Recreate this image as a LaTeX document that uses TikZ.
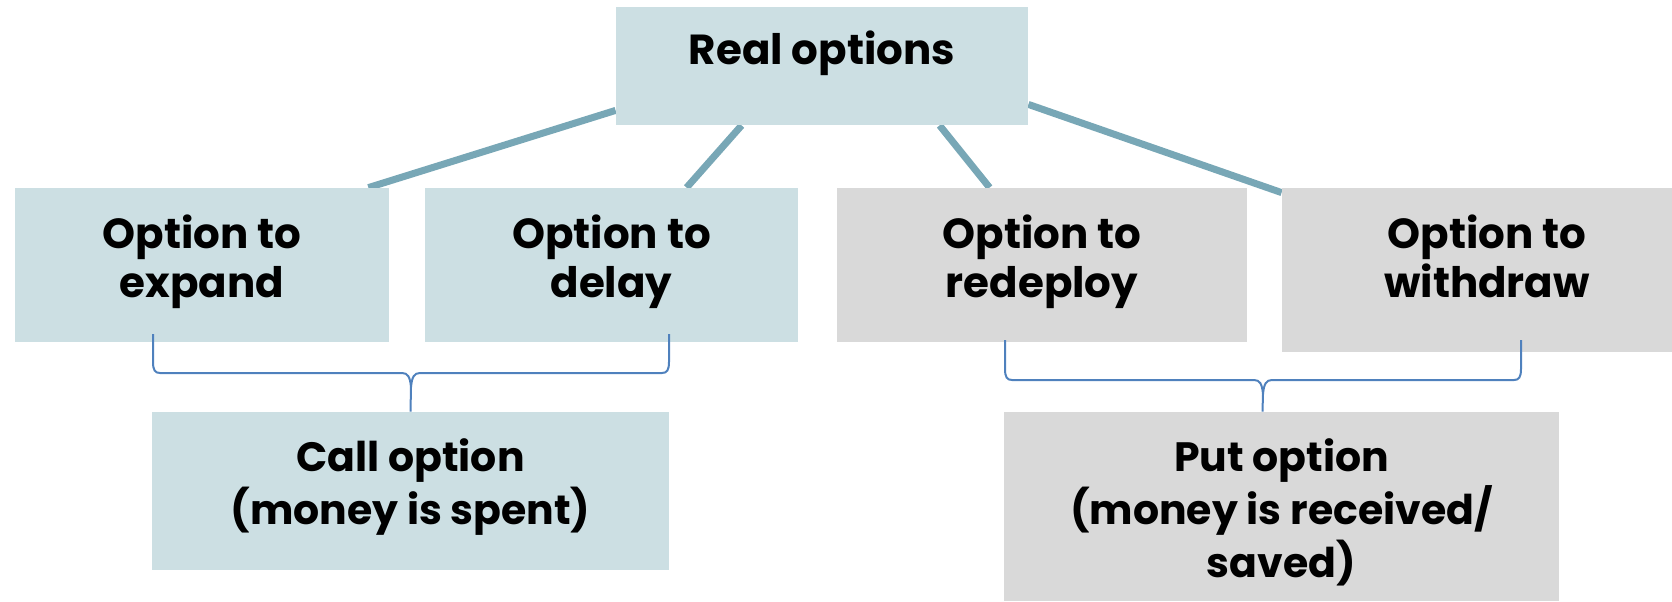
\documentclass[tikz,border=0pt]{standalone}
\usepackage{fontspec}
\setmainfont{Poppins}
\usetikzlibrary{calc, backgrounds}
\definecolor{boxblue}{HTML}{CCDFE3}
\definecolor{boxgray}{HTML}{D9D9D9}
\definecolor{linkcol}{HTML}{78A7B6}
\definecolor{bracecol}{HTML}{4F81BD}

\begin{document}
\begin{tikzpicture}[x=0.5pt, y=-0.5pt,
    bluebox/.style={fill=boxblue, inner sep=0pt},
    graybox/.style={fill=boxgray, inner sep=0pt},
    txt/.style={font=\bfseries\fontsize{21}{24.5}\selectfont, align=center, anchor=north, inner sep=0pt},
    bigtxt/.style={txt, font=\bfseries\fontsize{20.5}{26.5}\selectfont},
    link/.style={draw=linkcol, line width=3.5pt},
    brc/.style={draw=bracecol, line width=1pt}]
    \useasboundingbox (0,0) rectangle (1672,601);
    \node[bluebox, minimum width=206pt, minimum height=59pt] (real) at (822,66) {};
    \node[bluebox, minimum width=187pt, minimum height=77pt] (expand) at (202,265) {};
    \node[bluebox, minimum width=186.5pt, minimum height=77pt] (delay) at (611.5,265) {};
    \node[graybox, minimum width=205pt, minimum height=77pt] (redeploy) at (1042,265) {};
    \node[graybox, minimum width=205pt, minimum height=82pt] (withdraw) at (1487,270) {};
    \node[bluebox, minimum width=258.5pt, minimum height=79pt] (call) at (410.5,491) {};
    \node[graybox, minimum width=277.5pt, minimum height=94.5pt] (put) at (1281.5,506.5) {};

    \node[txt] (realtxt) at ($(real.north)+(0,24)$) {Real options};
    \node[txt] (expandtxt) at ($(expand.north)+(0,27)$) {Option to\\expand};
    \node[txt] (delaytxt) at ($(delay.north)+(0,27)$) {Option to\\delay};
    \node[txt] (redeploytxt) at ($(redeploy.north)+(0,27)$) {Option to\\redeploy};
    \node[txt] (withdrawtxt) at ($(withdraw.north)+(0,27)$) {Option to\\withdraw};
    \node[bigtxt] (calltxt) at ($(call.north)+(0,27)$) {Call option\\(money is spent)};
    \node[bigtxt] (puttxt) at ($(put.north)+(0,27)$) {Put option\\(money is received/\\saved)};

    \begin{scope}[on background layer]
    \draw[link] ($(real.south west)+(0,-15)$) -- ($(expand.north east)+(-21,0)$);
    \draw[link] ($(real.south west)+(126,0)$) -- ($(delay.north west)+(262,0)$);
    \draw[link] ($(real.south west)+(324,0)$) -- ($(redeploy.north west)+(153,0)$);
    \draw[link] ($(real.south east)+(0,-21)$) -- ($(withdraw.north west)+(0,5)$);
    \end{scope}

    \coordinate (calltip) at (call.north);
    \coordinate (puttip) at ($(put.north)+(-19,0)$);
    \draw[brc] (153,334) -- (153,362) .. controls (153,370) and (155,373) .. (160,373)
        -- (402,373) .. controls (408,373) and (410,377) .. (411,387) -- (calltip);
    \draw[brc] (669,334) -- (669,362) .. controls (669,370) and (667,373) .. (662,373)
        -- (420,373) .. controls (414,373) and (412,377) .. (411,387);
    \draw[brc] (1005,340) -- (1005,369) .. controls (1005,377) and (1007,380) .. (1012,380)
        -- (1254,380) .. controls (1260,380) and (1262,384) .. (1263,394) -- (puttip);
    \draw[brc] (1521,340) -- (1521,369) .. controls (1521,377) and (1519,380) .. (1514,380)
        -- (1272,380) .. controls (1266,380) and (1264,384) .. (1263,394);
\end{tikzpicture}
\end{document}
